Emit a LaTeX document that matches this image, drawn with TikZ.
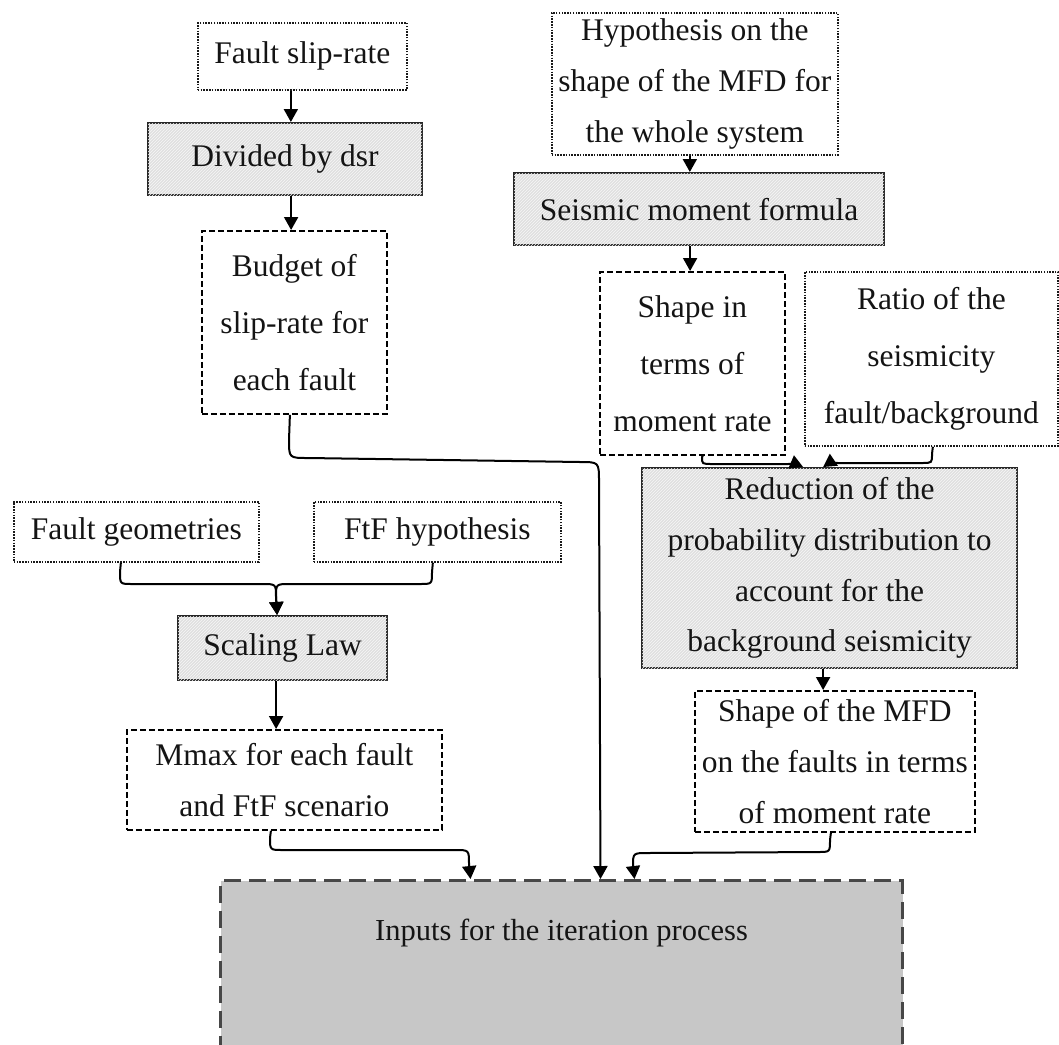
\documentclass[tikz,border=0pt]{standalone}
\usepackage{fontspec}
\setmainfont{Liberation Serif}
\usetikzlibrary{arrows.meta,patterns}
\begin{document}
\begin{tikzpicture}[x=1pt,y=-1pt,
  every node/.style={anchor=north west, inner sep=0pt, align=center, text=black!92,
    font=\fontsize{31.5}{57}\selectfont},
  tight/.style={font=\fontsize{31.5}{50.7}\selectfont},
  dotbox/.style={draw=black!90, line width=1.7pt, dash pattern=on 1.5pt off 1.3pt},
  dashbox/.style={draw=black, line width=1.8pt, dash pattern=on 6pt off 3pt},
  procbox/.style={draw=black!85, line width=2.2pt, fill=black!12,
    postaction={pattern=north east lines, pattern color=black!3}},
  inbox/.style={draw=black!72, line width=3pt, dash pattern=on 17pt off 8pt, fill=black!22},
  arr/.style={draw=black, line width=2pt, -{Triangle[length=13pt,width=14pt]}},
]
\useasboundingbox (0,0) rectangle (1059,1044);
\clip (0,0) rectangle (1059,1044);

% left column
\node[dotbox, minimum width=209pt, minimum height=67pt] (fsr) at (197,22) {Fault slip-rate};
\node[procbox, minimum width=274pt, minimum height=72pt] (div) at (147,122) {Divided by dsr};
\node[dashbox, minimum width=185pt, minimum height=183pt] (bud) at (201,230) {Budget of\\slip-rate for\\each fault};

% right column
\node[dotbox, tight, minimum width=286pt, minimum height=142pt] (hyp) at (551,12) {Hypothesis on the\\shape of the MFD for\\the whole system};
\node[procbox, minimum width=370pt, minimum height=72pt] (sei) at (513,172) {Seismic moment formula};
\node[dashbox, minimum width=185pt, minimum height=183pt] (sit) at (599,271) {Shape in\\terms of\\moment rate};
\node[dotbox, minimum width=253pt, minimum height=174pt] (rat) at (804,271) {Ratio of the\\seismicity\\fault/background};
\node[procbox, tight, minimum width=375pt, minimum height=200pt] (red) at (641,467) {Reduction of the\\probability distribution to\\account for the\\background seismicity};
\node[dashbox, tight, minimum width=280pt, minimum height=141pt] (smfd) at (694,690) {Shape of the MFD\\on the faults in terms\\of moment rate};

% middle left
\node[dotbox, minimum width=245pt, minimum height=60pt] (fg) at (13,501) {Fault geometries};
\node[dotbox, minimum width=247pt, minimum height=60pt] (ftf) at (313,501) {FtF hypothesis};
\node[procbox, minimum width=209pt, minimum height=64pt] (sca) at (177,615) {Scaling Law};
\node[dashbox, tight, minimum width=315pt, minimum height=100pt] (mmax) at (126,729) {Mmax for each fault\\and FtF scenario};

% bottom
\node[inbox, minimum width=682pt, text height=60pt, text depth=121pt, font=\fontsize{30.5}{36}\selectfont] (inp) at (219,879) {Inputs for the iteration process};

% connectors
\draw[arr] ([xshift=-11.5pt]fsr.south) -- ([xshift=-11.5pt]fsr.south |- div.north);
\draw[arr] ([xshift=6pt]div.south) -- ([xshift=6pt]div.south |- bud.north);
\draw[arr] ([xshift=-5pt]hyp.south) -- ([xshift=-5pt]hyp.south |- sei.north);
\draw[arr] ([xshift=-9pt]sei.south) -- ([xshift=-9pt]sei.south |- sit.north);
\draw[arr] ([xshift=10.5pt]sit.south) -- (702,457) .. controls (702,464) .. (712,464) -- (784,464) .. controls (796,464) .. ([xshift=-26.5pt]red.north);
\draw[arr] ([xshift=1.5pt]rat.south) -- (932,454) .. controls (932,463) .. (922,463) -- (842,463) .. controls (829,463) .. ([xshift=-6.5pt]red.north);
\draw[arr] ([xshift=-6.5pt]red.south) -- ([xshift=-6.5pt]red.south |- smfd.north);
\draw[arr] ([xshift=-4.5pt]bud.south) -- (289,440) .. controls (289,458) .. (308,458) -- (580,462) .. controls (599,462) .. (599,482) -- ([xshift=39pt]inp.north);
\draw[arr] ([xshift=-15.5pt]fg.south) -- (120,572) .. controls (120,584) .. (132,584) -- (262,584) .. controls (276,584) .. (276,597) -- ([xshift=-5.5pt]sca.north);
\draw[arr] ([xshift=-4.5pt]ftf.south) -- (432,572) .. controls (432,584) .. (420,584) -- (290,584) .. controls (276,584) .. (276,597) -- ([xshift=-5.5pt]sca.north);
\draw[arr] ([xshift=-6.5pt]sca.south) -- ([xshift=-6.5pt]sca.south |- mmax.north);
\draw[arr] ([xshift=-13.5pt]mmax.south) -- (270,838) .. controls (270,850) .. (283,850) -- (455,850) .. controls (469,850) .. (469,864) -- ([xshift=-91pt]inp.north);
\draw[arr] ([xshift=-4pt]smfd.south) -- (830,840) .. controls (830,852) .. (818,852) -- (648,853) .. controls (633,853) .. (633,866) -- ([xshift=73pt]inp.north);
\end{tikzpicture}
\end{document}
